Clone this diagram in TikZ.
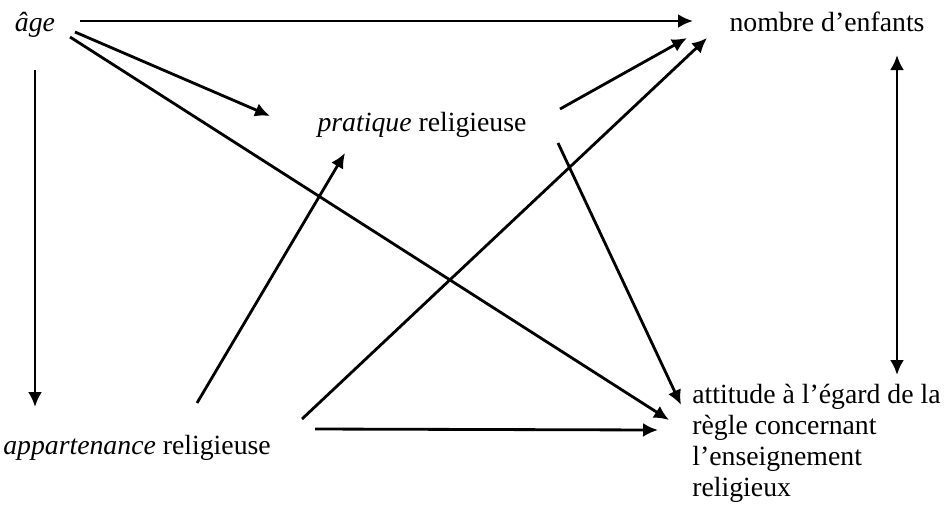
\documentclass[tikz,border=0pt]{standalone}
\usepackage{fontspec}
\setmainfont{Liberation Serif}
\usetikzlibrary{arrows.meta,positioning,calc}
\tikzset{
  lbl/.style = {inner sep=0pt, font=\fontsize{15.8pt}{15.8pt}\selectfont},
  ar/.style  = {-{Latex[length=3mm,width=2.8mm]}, draw=black, line width=1.6pt},
  dar/.style = {{Latex[length=3mm,width=2.8mm]}-{Latex[length=3mm,width=2.8mm]}, draw=black, line width=1.6pt}
}
\begin{document}
\begin{tikzpicture}[x=0.02cm, y=-0.02cm]
    \useasboundingbox (0,0) rectangle (946,505);
    \node[lbl] (age) at (35,25) {\textit{âge}};
    \node[lbl] (nombre) at (827,22) {nombre d'enfants};
    \node[lbl] (pratique) at (422,125) {\textit{pratique} religieuse};
    \node[lbl] (appart) at (137,448) {\textit{appartenance} religieuse};
    \node[lbl, font=\fontsize{15.8pt}{17.6pt}\selectfont, anchor=north west, align=left] (attitude) at (692,384)
      {attitude à l'égard de la\\règle concernant\\l'enseignement\\religieux};
    % depuis l'age
    \draw[ar] ([shift={(45,-4)}]age.center) -- ([shift={(-134,-1)}]nombre.center);
    \draw[ar] ([shift={(40,7)}]age.center) -- ([shift={(-152,-9)}]pratique.center);
    \draw[ar] ([shift={(35,12)}]age.center) -- ([shift={(-23,36)}]attitude.north west);
    \draw[ar] ([shift={(0,45)}]age.center) -- ([shift={(-102,-41)}]appart.center);
    % depuis la pratique
    \draw[ar] ([shift={(138,-16)}]pratique.center) -- ([shift={(-140,16)}]nombre.center);
    \draw[ar] ([shift={(136,18)}]pratique.center) -- ([shift={(-11,21)}]attitude.north west);
    % depuis l'appartenance
    \draw[ar] ([shift={(60,-45)}]appart.center) -- ([shift={(-77,28)}]pratique.center);
    \draw[ar] ([shift={(165,-29)}]appart.center) -- ([shift={(-120,16)}]nombre.center);
    \draw[ar] ([shift={(178,-19)}]appart.center) -- ([shift={(-34,46)}]attitude.north west);
    % nombre <-> attitude
    \draw[dar] ([shift={(70,33)}]nombre.center) -- ([shift={(205,-9)}]attitude.north west);
\end{tikzpicture}
\end{document}
